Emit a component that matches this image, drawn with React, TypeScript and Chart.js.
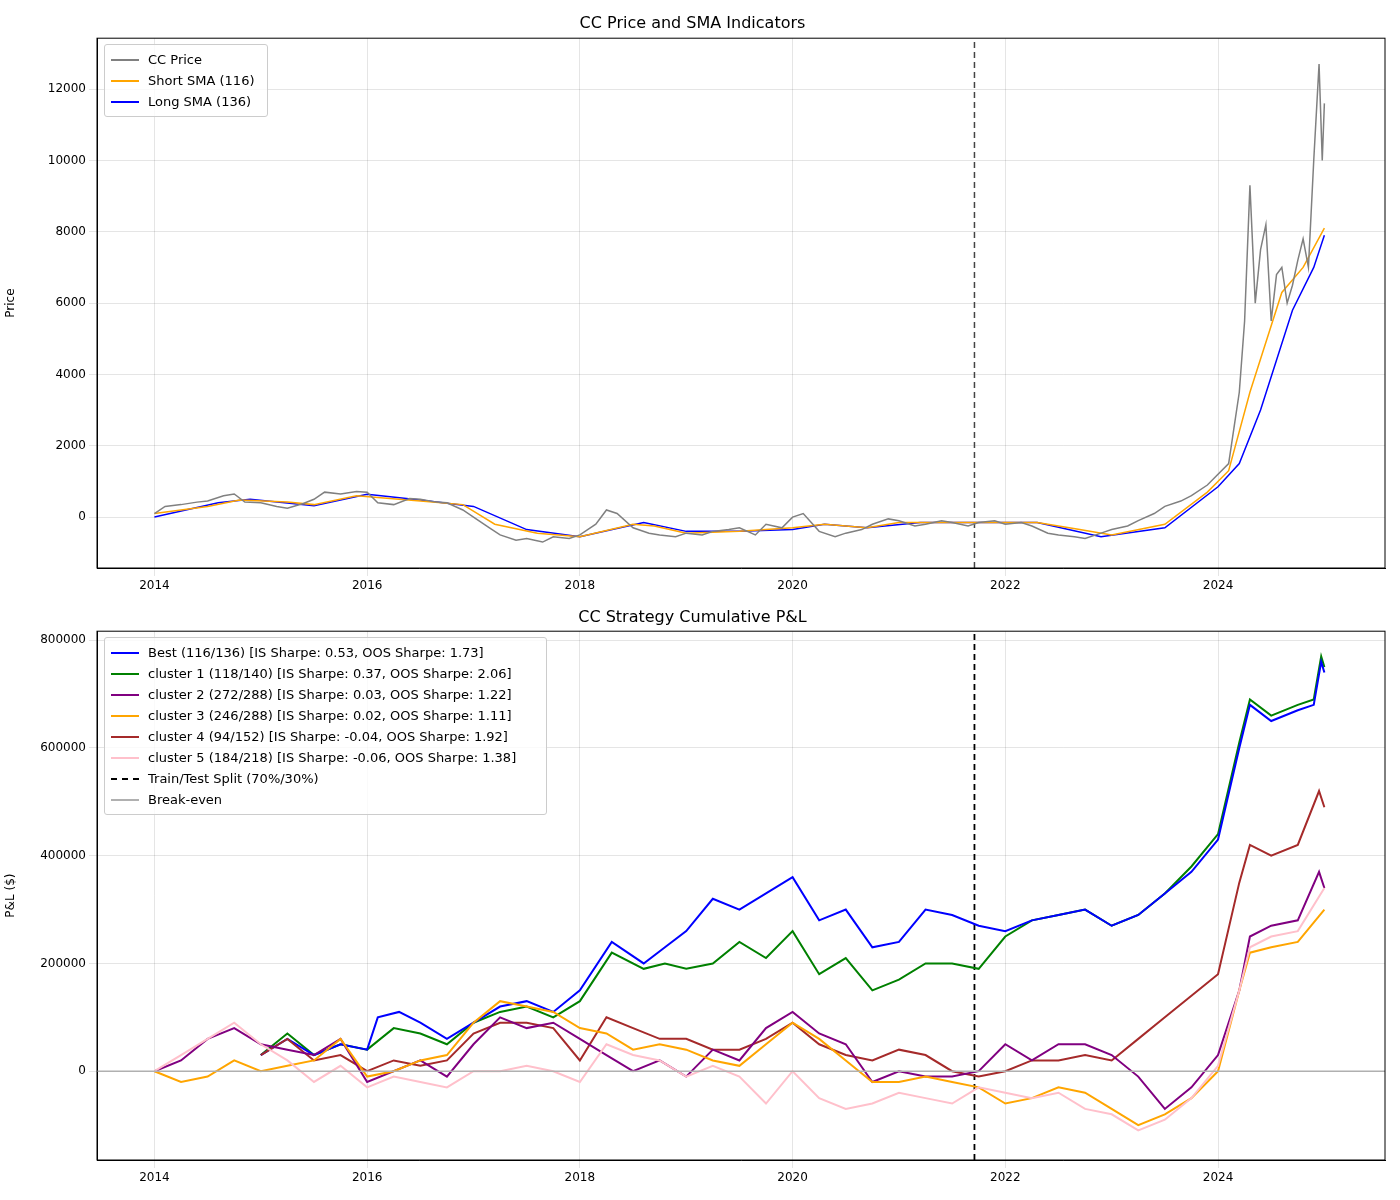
import { useEffect, useRef } from "react";
import { Chart, registerables } from "chart.js";

Chart.register(...registerables);

const FONT = "DejaVu Sans, sans-serif";
const SPLIT = 2021.71;

type P = [number, number];

const xTicks = [2014, 2016, 2018, 2020, 2022, 2024];
const priceTicks = [0, 2000, 4000, 6000, 8000, 10000, 12000];
const pnlTicks = [0, 200000, 400000, 600000, 800000];

const priceData: P[] = [
  [2014, 100], [2014.1, 300], [2014.25, 350], [2014.4, 420], [2014.5, 450], [2014.65, 600], [2014.75, 650], [2014.85, 420], [2015, 400],
  [2015.15, 300], [2015.25, 250], [2015.4, 380], [2015.5, 500], [2015.6, 700], [2015.75, 650], [2015.9, 720], [2016, 700],
  [2016.1, 400], [2016.25, 350], [2016.4, 520], [2016.5, 500], [2016.65, 420], [2016.75, 400], [2016.9, 200], [2017, 0],
  [2017.15, -300], [2017.25, -500], [2017.4, -650], [2017.5, -600], [2017.65, -700], [2017.75, -550], [2017.9, -600], [2018, -500],
  [2018.15, -200], [2018.25, 200], [2018.35, 100], [2018.5, -300], [2018.65, -450], [2018.75, -500], [2018.9, -550], [2019, -450],
  [2019.15, -500], [2019.25, -400], [2019.4, -350], [2019.5, -300], [2019.65, -500], [2019.75, -200], [2019.9, -300], [2020, 0],
  [2020.1, 100], [2020.25, -400], [2020.4, -550], [2020.5, -450], [2020.65, -350], [2020.75, -200], [2020.9, -50], [2021, -100],
  [2021.15, -250], [2021.25, -200], [2021.4, -100], [2021.5, -150], [2021.65, -250], [2021.75, -150], [2021.9, -100], [2022, -200],
  [2022.15, -150], [2022.25, -250], [2022.4, -450], [2022.5, -500], [2022.65, -550], [2022.75, -600], [2022.9, -450], [2023, -350],
  [2023.15, -250], [2023.25, -100], [2023.4, 100], [2023.5, 300], [2023.65, 450], [2023.75, 600], [2023.9, 900], [2024, 1200],
  [2024.1, 1500], [2024.15, 2500], [2024.2, 3500], [2024.25, 5500], [2024.3, 9300], [2024.35, 6000], [2024.4, 7500], [2024.45, 8200],
  [2024.5, 5500], [2024.55, 6800], [2024.6, 7000], [2024.65, 6000], [2024.7, 6500], [2024.75, 7200], [2024.8, 7800], [2024.85, 7000],
  [2024.9, 10000], [2024.95, 12700], [2024.98, 10000], [2025, 11600],
];

const shortSmaData: P[] = [
  [2014, 100], [2014.5, 300], [2014.8, 480], [2015.25, 420], [2015.5, 350], [2015.9, 600], [2016.5, 450], [2016.9, 350],
  [2017.2, -200], [2017.6, -450], [2018, -550], [2018.5, -200], [2018.7, -250], [2019, -450], [2019.5, -400], [2020, -300],
  [2020.3, -200], [2020.7, -300], [2021, -150], [2021.6, -150], [2022.3, -150], [2022.7, -350], [2023, -500], [2023.5, -200],
  [2023.9, 700], [2024.1, 1300], [2024.3, 3500], [2024.6, 6300], [2024.8, 7000], [2025, 8100],
];

const longSmaData: P[] = [
  [2014, 0], [2014.6, 400], [2014.9, 500], [2015.5, 320], [2016, 640], [2016.5, 480], [2017, 300], [2017.5, -350],
  [2018, -550], [2018.6, -150], [2019, -400], [2019.5, -400], [2020, -350], [2020.3, -200], [2020.7, -300], [2021.2, -150],
  [2021.7, -150], [2022.3, -150], [2022.9, -550], [2023.5, -300], [2024, 850], [2024.2, 1500], [2024.4, 3000], [2024.7, 5800],
  [2024.9, 7000], [2025, 7900],
];

const bestData: P[] = [
  [2015, 30000], [2015.25, 60000], [2015.5, 30000], [2015.75, 50000], [2016, 40000], [2016.1, 100000], [2016.3, 110000], [2016.5, 90000],
  [2016.75, 60000], [2017, 90000], [2017.25, 120000], [2017.5, 130000], [2017.75, 110000], [2018, 150000], [2018.3, 240000], [2018.6, 200000],
  [2018.8, 230000], [2019, 260000], [2019.25, 320000], [2019.5, 300000], [2019.75, 330000], [2020, 360000], [2020.25, 280000], [2020.5, 300000],
  [2020.75, 230000], [2021, 240000], [2021.25, 300000], [2021.5, 290000], [2021.75, 270000], [2022, 260000], [2022.25, 280000], [2022.5, 290000],
  [2022.75, 300000], [2023, 270000], [2023.25, 290000], [2023.5, 330000], [2023.75, 370000], [2024, 430000], [2024.2, 600000], [2024.3, 680000],
  [2024.5, 650000], [2024.75, 670000], [2024.9, 680000], [2024.97, 760000], [2025, 740000],
];

const cluster1Data: P[] = [
  [2015, 30000], [2015.25, 70000], [2015.5, 30000], [2015.75, 50000], [2016, 40000], [2016.25, 80000], [2016.5, 70000], [2016.75, 50000],
  [2017, 90000], [2017.25, 110000], [2017.5, 120000], [2017.75, 100000], [2018, 130000], [2018.3, 220000], [2018.6, 190000], [2018.8, 200000],
  [2019, 190000], [2019.25, 200000], [2019.5, 240000], [2019.75, 210000], [2020, 260000], [2020.25, 180000], [2020.5, 210000], [2020.75, 150000],
  [2021, 170000], [2021.25, 200000], [2021.5, 200000], [2021.75, 190000], [2022, 250000], [2022.25, 280000], [2022.5, 290000], [2022.75, 300000],
  [2023, 270000], [2023.25, 290000], [2023.5, 330000], [2023.75, 380000], [2024, 440000], [2024.2, 610000], [2024.3, 690000], [2024.5, 660000],
  [2024.75, 680000], [2024.9, 690000], [2024.97, 770000], [2025, 750000],
];

const cluster2Data: P[] = [
  [2014, 0], [2014.25, 20000], [2014.5, 60000], [2014.75, 80000], [2015, 50000], [2015.25, 40000], [2015.5, 30000], [2015.75, 60000],
  [2016, -20000], [2016.5, 20000], [2016.75, -10000], [2017, 50000], [2017.25, 100000], [2017.5, 80000], [2017.75, 90000], [2018, 60000],
  [2018.25, 30000], [2018.5, 0], [2018.75, 20000], [2019, -10000], [2019.25, 40000], [2019.5, 20000], [2019.75, 80000], [2020, 110000],
  [2020.25, 70000], [2020.5, 50000], [2020.75, -20000], [2021, 0], [2021.25, -10000], [2021.5, -10000], [2021.75, 0], [2022, 50000],
  [2022.25, 20000], [2022.5, 50000], [2022.75, 50000], [2023, 30000], [2023.25, -10000], [2023.5, -70000], [2023.75, -30000], [2024, 30000],
  [2024.2, 150000], [2024.3, 250000], [2024.5, 270000], [2024.75, 280000], [2024.95, 370000], [2025, 340000],
];

const cluster3Data: P[] = [
  [2014, 0], [2014.25, -20000], [2014.5, -10000], [2014.75, 20000], [2015, 0], [2015.25, 10000], [2015.5, 20000], [2015.75, 60000],
  [2016, -10000], [2016.25, 0], [2016.5, 20000], [2016.75, 30000], [2017, 90000], [2017.25, 130000], [2017.5, 120000], [2017.75, 110000],
  [2018, 80000], [2018.25, 70000], [2018.5, 40000], [2018.75, 50000], [2019, 40000], [2019.25, 20000], [2019.5, 10000], [2019.75, 50000],
  [2020, 90000], [2020.25, 60000], [2020.5, 20000], [2020.75, -20000], [2021, -20000], [2021.25, -10000], [2021.5, -20000], [2021.75, -30000],
  [2022, -60000], [2022.25, -50000], [2022.5, -30000], [2022.75, -40000], [2023, -70000], [2023.25, -100000], [2023.5, -80000], [2023.75, -50000],
  [2024, 0], [2024.2, 150000], [2024.3, 220000], [2024.5, 230000], [2024.75, 240000], [2025, 300000],
];

const cluster4Data: P[] = [
  [2015, 30000], [2015.25, 60000], [2015.5, 20000], [2015.75, 30000], [2016, 0], [2016.25, 20000], [2016.5, 10000], [2016.75, 20000],
  [2017, 70000], [2017.25, 90000], [2017.5, 90000], [2017.75, 80000], [2018, 20000], [2018.25, 100000], [2018.5, 80000], [2018.75, 60000],
  [2019, 60000], [2019.25, 40000], [2019.5, 40000], [2019.75, 60000], [2020, 90000], [2020.25, 50000], [2020.5, 30000], [2020.75, 20000],
  [2021, 40000], [2021.25, 30000], [2021.5, 0], [2021.75, -10000], [2022, 0], [2022.25, 20000], [2022.5, 20000], [2022.75, 30000],
  [2023, 20000], [2023.25, 60000], [2023.5, 100000], [2023.75, 140000], [2024, 180000], [2024.2, 350000], [2024.3, 420000], [2024.5, 400000],
  [2024.75, 420000], [2024.95, 520000], [2025, 490000],
];

const cluster5Data: P[] = [
  [2014, 0], [2014.25, 30000], [2014.5, 60000], [2014.75, 90000], [2015, 50000], [2015.25, 20000], [2015.5, -20000], [2015.75, 10000],
  [2016, -30000], [2016.25, -10000], [2016.5, -20000], [2016.75, -30000], [2017, 0], [2017.25, 0], [2017.5, 10000], [2017.75, 0],
  [2018, -20000], [2018.25, 50000], [2018.5, 30000], [2018.75, 20000], [2019, -10000], [2019.25, 10000], [2019.5, -10000], [2019.75, -60000],
  [2020, 0], [2020.25, -50000], [2020.5, -70000], [2020.75, -60000], [2021, -40000], [2021.25, -50000], [2021.5, -60000], [2021.75, -30000],
  [2022, -40000], [2022.25, -50000], [2022.5, -40000], [2022.75, -70000], [2023, -80000], [2023.25, -110000], [2023.5, -90000], [2023.75, -50000],
  [2024, 10000], [2024.2, 150000], [2024.3, 230000], [2024.5, 250000], [2024.75, 260000], [2025, 340000],
];

const topLegend = [
  { label: "CC Price", color: "#808080", dash: false },
  { label: "Short SMA (116)", color: "orange", dash: false },
  { label: "Long SMA (136)", color: "blue", dash: false },
];

const bottomLegend = [
  { label: "Best (116/136) [IS Sharpe: 0.53, OOS Sharpe: 1.73]", color: "blue", dash: false },
  { label: "cluster 1 (118/140) [IS Sharpe: 0.37, OOS Sharpe: 2.06]", color: "green", dash: false },
  { label: "cluster 2 (272/288) [IS Sharpe: 0.03, OOS Sharpe: 1.22]", color: "purple", dash: false },
  { label: "cluster 3 (246/288) [IS Sharpe: 0.02, OOS Sharpe: 1.11]", color: "orange", dash: false },
  { label: "cluster 4 (94/152) [IS Sharpe: -0.04, OOS Sharpe: 1.92]", color: "brown", dash: false },
  { label: "cluster 5 (184/218) [IS Sharpe: -0.06, OOS Sharpe: 1.38]", color: "pink", dash: false },
  { label: "Train/Test Split (70%/30%)", color: "black", dash: true },
  { label: "Break-even", color: "#b0b0b0", dash: false },
];

const toXY = (d: P[]) => d.map(([x, y]) => ({ x, y }));

const frame = {
  id: "frame",
  afterDraw(chart: any) {
    const { ctx, chartArea: a } = chart;
    ctx.save();
    ctx.strokeStyle = "#000";
    ctx.lineWidth = 1;
    ctx.strokeRect(a.left, a.top, a.right - a.left, a.bottom - a.top);
    ctx.restore();
  },
};

function line(label: string, data: P[], color: string, width = 1.5, extra: any = {}) {
  return { label, data: toXY(data), borderColor: color, borderWidth: width, pointRadius: 0, tension: 0, ...extra };
}

function makeOptions(title: string, yTitle: string, yMin: number, yMax: number, yTicks: number[], titlePad: any) {
  return {
    animation: false,
    responsive: false,
    layout: { padding: { left: 0, right: 15, top: 0, bottom: 0 } },
    plugins: {
      legend: { display: false },
      tooltip: { enabled: false },
      title: { display: true, text: title, color: "#000", font: { family: FONT, size: 16, weight: "normal" }, padding: titlePad },
    },
    scales: {
      x: {
        type: "linear",
        min: 2013.46,
        max: 2025.57,
        afterBuildTicks: (s: any) => { s.ticks = xTicks.map((value) => ({ value })); },
        ticks: { color: "#000", font: { family: FONT, size: 12 }, callback: (v: any) => String(v) },
        grid: { color: "rgba(0,0,0,0.1)" },
        border: { color: "#000" },
        afterFit: (s: any) => { s.height = 32; },
      },
      y: {
        min: yMin,
        max: yMax,
        afterBuildTicks: (s: any) => { s.ticks = yTicks.map((value) => ({ value })); },
        ticks: { color: "#000", font: { family: FONT, size: 12 }, callback: (v: any) => String(v) },
        grid: { color: "rgba(0,0,0,0.1)" },
        border: { color: "#000" },
        title: { display: true, text: yTitle, color: "#000", font: { family: FONT, size: 12 } },
        afterFit: (s: any) => { s.width = 97; },
      },
    },
  };
}

function Legend({ items, top, width }: { items: typeof topLegend; top: number; width: number }) {
  return (
    <div style={{ position: "absolute", left: 104, top, width, padding: "4px 0", border: "1px solid #ccc", borderRadius: 3, background: "rgba(255,255,255,0.8)", fontFamily: FONT, fontSize: 13 }}>
      {items.map((it) => (
        <div key={it.label} style={{ display: "flex", alignItems: "center", height: 21 }}>
          <span style={{ display: "inline-block", width: 28, marginLeft: 6, marginRight: 9, borderTop: `2px ${it.dash ? "dashed" : "solid"} ${it.color}` }} />
          <span>{it.label}</span>
        </div>
      ))}
    </div>
  );
}

export default function App() {
  const topRef = useRef<HTMLCanvasElement>(null);
  const botRef = useRef<HTMLCanvasElement>(null);

  useEffect(() => {
    if (!topRef.current || !botRef.current) return;
    const top = new Chart(topRef.current, {
      type: "line",
      data: {
        datasets: [
          line("CC Price", priceData, "#808080"),
          line("Short SMA (116)", shortSmaData, "orange"),
          line("Long SMA (136)", longSmaData, "blue"),
          line("split", [[SPLIT, -1427], [SPLIT, 13427]], "#444", 1.5, { borderDash: [6, 4] }),
        ] as any,
      },
      options: makeOptions("CC Price and SMA Indicators", "Price", -1427, 13427, priceTicks, { top: 14, bottom: 5 }) as any,
      plugins: [frame],
    });
    const bot = new Chart(botRef.current, {
      type: "line",
      data: {
        datasets: [
          line("Break-even", [[2013.46, 0], [2025.57, 0]], "#b0b0b0"),
          line("cluster 5", cluster5Data, "pink", 2),
          line("cluster 3", cluster3Data, "orange", 2),
          line("cluster 2", cluster2Data, "purple", 2),
          line("cluster 4", cluster4Data, "brown", 2),
          line("Best", bestData, "blue", 2),
          line("cluster 1", cluster1Data, "green", 2),
          line("split", [[SPLIT, -164815], [SPLIT, 816667]], "black", 1.8, { borderDash: [6, 4] }),
        ] as any,
      },
      options: makeOptions("CC Strategy Cumulative P&L", "P&L ($)", -164815, 816667, pnlTicks, { top: 8, bottom: 4 }) as any,
      plugins: [frame],
    });
    return () => {
      top.destroy();
      bot.destroy();
    };
  }, []);

  return (
    <div style={{ position: "absolute", left: 0, top: 0, width: 1400, height: 1200, background: "#fff" }}>
      <canvas ref={topRef} width={1400} height={600} style={{ position: "absolute", left: 0, top: 0 }} />
      <canvas ref={botRef} width={1400} height={592} style={{ position: "absolute", left: 0, top: 600 }} />
      <Legend items={topLegend} top={44} width={162} />
      <Legend items={bottomLegend} top={637} width={441} />
    </div>
  );
}
